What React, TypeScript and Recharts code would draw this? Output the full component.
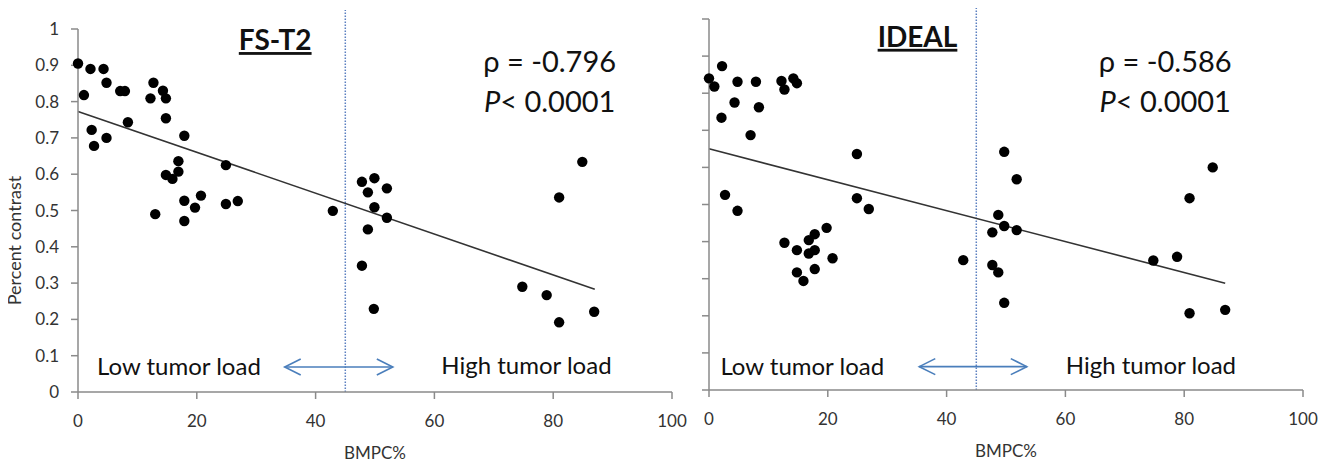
import { ScatterChart, Scatter, XAxis, YAxis, ReferenceLine, ReferenceDot } from 'recharts';

const FONT = 'Lato, "Open Sans", sans-serif';
const AXIS_GREY = '#8a8a8a';
const ARROW_BLUE = '#4a7ebb';

const xTicks = [0, 20, 40, 60, 80, 100];
const yTicks = [0, 0.1, 0.2, 0.3, 0.4, 0.5, 0.6, 0.7, 0.8, 0.9, 1];

// FS-T2 panel
const fsBmpc = [
  0, 1, 2.1, 4.3, 4.8, 2.3, 2.7, 4.8, 7.1, 7.9, 8.4, 12.7, 12.2, 14.3, 14.8,
  14.8, 17.9, 16.9, 16.9, 14.8, 15.9, 13, 17.9, 19.7, 20.7, 17.9, 24.9, 24.9,
  26.9, 42.9, 47.8, 49.9, 48.8, 52, 49.9, 52, 48.8, 47.8, 49.8, 74.8, 78.9, 81,
  86.9, 84.9, 81,
];
const fsContrast = [
  0.905, 0.818, 0.89, 0.89, 0.852, 0.722, 0.678, 0.7, 0.829, 0.829, 0.743,
  0.852, 0.809, 0.83, 0.809, 0.754, 0.706, 0.636, 0.607, 0.598, 0.587, 0.49,
  0.527, 0.508, 0.541, 0.471, 0.625, 0.518, 0.526, 0.499, 0.579, 0.589, 0.55,
  0.561, 0.509, 0.48, 0.448, 0.348, 0.229, 0.29, 0.267, 0.192, 0.221, 0.634,
  0.536,
];
const fsFitX = [0, 87];
const fsFitY = [0.773, 0.283];

// IDEAL panel
const idealBmpc = [
  0, 0.9, 2.2, 4.8, 7.9, 4.3, 8.4, 2.1, 7, 12.2, 12.7, 14.2, 14.8, 24.9, 2.7,
  4.8, 24.9, 26.9, 19.8, 17.8, 12.7, 14.8, 16.8, 16.8, 17.8, 20.8, 14.8, 17.8,
  15.9, 42.8, 49.7, 51.8, 48.7, 49.7, 51.8, 47.7, 47.7, 48.7, 49.7, 74.8, 78.8,
  80.9, 86.9, 84.8, 80.9,
];
const idealContrast = [
  0.84, 0.818, 0.873, 0.831, 0.831, 0.775, 0.762, 0.734, 0.687, 0.833, 0.81,
  0.84, 0.827, 0.636, 0.526, 0.483, 0.517, 0.488, 0.437, 0.42, 0.397, 0.377,
  0.404, 0.368, 0.377, 0.355, 0.317, 0.326, 0.294, 0.35, 0.642, 0.568, 0.472,
  0.442, 0.431, 0.425, 0.337, 0.317, 0.235, 0.349, 0.359, 0.207, 0.216, 0.6,
  0.517,
];
const idealFitX = [0, 86.9];
const idealFitY = [0.65, 0.288];

const cutoff = 45;

const toPoints = (xs: number[], ys: number[]) => xs.map((x, i) => ({ x, y: ys[i] }));

const Dot = (p: any) => <circle cx={p.cx} cy={p.cy} r={5.2} fill="#000" />;

const Arrow = (p: any) => {
  const { x1, y1, x2, y2 } = p;
  return (
    <g stroke={ARROW_BLUE} strokeWidth={1.6} fill="none">
      <line x1={x1} y1={y1} x2={x2} y2={y2} />
      <polyline points={`${x1 + 16},${y1 - 8} ${x1},${y1} ${x1 + 16},${y1 + 8}`} />
      <polyline points={`${x2 - 16},${y2 - 8} ${x2},${y2} ${x2 - 16},${y2 + 8}`} />
    </g>
  );
};

// text placed in data coordinates
const note = (x: number, y: number, render: (cx: number, cy: number) => any, key: string) => (
  <ReferenceDot
    key={key}
    x={x}
    y={y}
    r={0}
    ifOverflow="visible"
    shape={(p: any) => render(p.cx, p.cy)}
  />
);

type PanelProps = {
  left: number;
  width: number;
  top: number;
  bottom: number;
  right: number;
  yAxisWidth: number;
  showYLabels: boolean;
  points: { x: number; y: number }[];
  fitX: number[];
  fitY: number[];
  title: string;
  titlePos: [number, number];
  rho: string;
  statsPos: [number, number];
  lowPos: [number, number];
  highPos: [number, number];
  arrow: [number, number, number];
  cutTop: number;
};

const Panel = (props: PanelProps) => {
  const textStyle = { fontFamily: FONT, fill: '#111' };
  return (
    <div style={{ position: 'absolute', left: props.left, top: 0 }}>
      <ScatterChart
        width={props.width}
        height={464}
        margin={{ top: props.top, right: props.right, bottom: 0, left: 0 }}
      >
        <XAxis
          type="number"
          dataKey="x"
          domain={[0, 100]}
          ticks={xTicks}
          interval={0}
          height={464 - props.bottom}
          stroke={AXIS_GREY}
          strokeWidth={1.5}
          tickSize={7}
          tickMargin={16}
          tick={{ fill: '#333', fontSize: 17, fontFamily: FONT }}
          label={{
            content: (lp: any) => {
              const vb = lp.viewBox;
              return (
                <text
                  x={vb.x + vb.width / 2}
                  y={vb.y + 67}
                  textAnchor="middle"
                  fontSize={17}
                  fontFamily={FONT}
                  fill="#333"
                >
                  BMPC%
                </text>
              );
            },
          }}
        />
        <YAxis
          type="number"
          dataKey="y"
          domain={[0, 1]}
          ticks={yTicks}
          interval={0}
          width={props.yAxisWidth}
          stroke={AXIS_GREY}
          strokeWidth={1.5}
          tickSize={7}
          tickMargin={12}
          tick={
            props.showYLabels
              ? { fill: '#333', fontSize: 17, fontFamily: FONT }
              : () => <g />
          }
          tickFormatter={(v: number) => String(Math.round(v * 10) / 10)}
          label={
            props.showYLabels
              ? {
                  content: (lp: any) => {
                    const vb = lp.viewBox;
                    const cx = vb.x + 16;
                    const cy = vb.y + vb.height / 2 + 30;
                    return (
                      <text
                        transform={`translate(${cx},${cy}) rotate(-90)`}
                        textAnchor="middle"
                        dominantBaseline="middle"
                        fontSize={18}
                        fontFamily={FONT}
                        fill="#333"
                      >
                        Percent contrast
                      </text>
                    );
                  },
                }
              : undefined
          }
        />
        <ReferenceLine
          segment={[
            { x: cutoff, y: 0 },
            { x: cutoff, y: props.cutTop },
          ]}
          ifOverflow="visible"
          stroke="#5b7fc0"
          strokeWidth={1.5}
          strokeDasharray="1.5 1.5"
        />
        <ReferenceLine
          segment={[
            { x: props.arrow[0], y: props.arrow[2] },
            { x: props.arrow[1], y: props.arrow[2] },
          ]}
          ifOverflow="visible"
          shape={(p: any) => <Arrow {...p} />}
        />
        <ReferenceLine
          segment={[
            { x: props.fitX[0], y: props.fitY[0] },
            { x: props.fitX[1], y: props.fitY[1] },
          ]}
          stroke="#333"
          strokeWidth={1.6}
        />
        <Scatter data={props.points} shape={Dot} isAnimationActive={false} />
        {note(props.titlePos[0], props.titlePos[1], (cx, cy) => (
          <text
            x={cx}
            y={cy}
            textAnchor="middle"
            fontSize={28}
            fontWeight={700}
            style={{ ...textStyle, textDecoration: 'underline' }}
          >
            {props.title}
          </text>
        ), 'title')}
        {note(props.statsPos[0], props.statsPos[1], (cx, cy) => (
          <g>
            <text x={cx} y={cy} textAnchor="middle" fontSize={29} style={textStyle}>
              {props.rho}
            </text>
            <text x={cx} y={cy + 40} textAnchor="middle" fontSize={29} style={textStyle}>
              <tspan fontStyle="italic">P</tspan>
              <tspan>{'< 0.0001'}</tspan>
            </text>
          </g>
        ), 'stats')}
        {note(props.lowPos[0], props.lowPos[1], (cx, cy) => (
          <text x={cx} y={cy} textAnchor="middle" fontSize={24} style={textStyle}>
            Low tumor load
          </text>
        ), 'low')}
        {note(props.highPos[0], props.highPos[1], (cx, cy) => (
          <text x={cx} y={cy} textAnchor="middle" fontSize={24} style={textStyle}>
            High tumor load
          </text>
        ), 'high')}
      </ScatterChart>
    </div>
  );
};

export default function App() {
  return (
    <div
      style={{
        position: 'relative',
        width: 1326,
        height: 464,
        marginLeft: -8,
        marginTop: -8,
        background: '#fff',
      }}
    >
      <Panel
        left={0}
        width={690}
        top={29}
        bottom={392}
        right={18}
        yAxisWidth={78}
        showYLabels
        points={toPoints(fsBmpc, fsContrast)}
        fitX={fsFitX}
        fitY={fsFitY}
        title="FS-T2"
        titlePos={[33.2, 0.942]}
        rho="ρ = -0.796"
        statsPos={[79.4, 0.882]}
        lowPos={[17.0, 0.047]}
        highPos={[75.5, 0.049]}
        arrow={[34.8, 53, 0.069]}
        cutTop={1.052}
      />
      <Panel
        left={690}
        width={636}
        top={19}
        bottom={390}
        right={23}
        yAxisWidth={19}
        showYLabels={false}
        points={toPoints(idealBmpc, idealContrast)}
        fitX={idealFitX}
        fitY={idealFitY}
        title="IDEAL"
        titlePos={[35.1, 0.925]}
        rho="ρ = -0.586"
        statsPos={[76.8, 0.857]}
        lowPos={[15.7, 0.04]}
        highPos={[74.4, 0.043]}
        arrow={[35.4, 53.5, 0.063]}
        cutTop={1.038}
      />
    </div>
  );
}
